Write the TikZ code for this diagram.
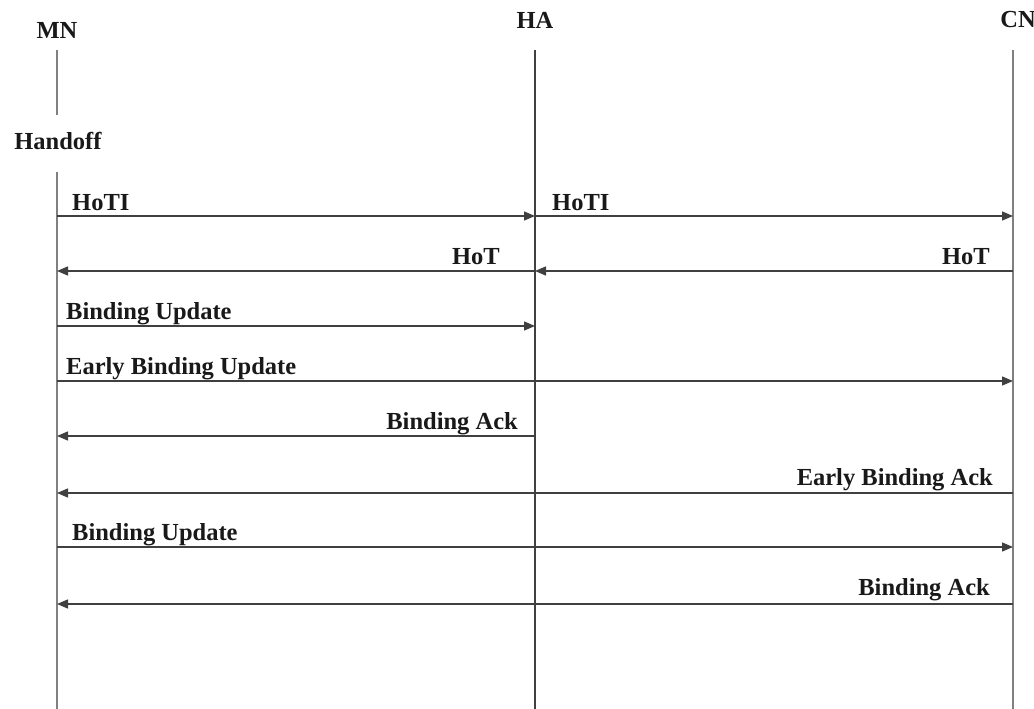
\documentclass[tikz,border=0pt]{standalone}
\usepackage{fontspec}
\setmainfont{Liberation Serif}
\usetikzlibrary{arrows.meta}
\begin{document}
\begin{tikzpicture}[x=1pt,y=-1pt,
  lbl/.style={font=\bfseries\fontsize{24.5}{24.5}\selectfont, inner sep=0pt, text=black!90},
  life/.style={draw=black!50, line width=2pt},
  lifeha/.style={draw=black!75, line width=1.3pt},
  msg/.style={draw=black!75, line width=1.4pt, -{Triangle[length=11pt,width=9pt]}}]
\useasboundingbox (0,0) rectangle (1034,709);
% participants
\node[lbl] (mn) at (57,30) {MN};
\node[lbl] (ha) at (535,20) {HA};
\node[lbl] (cn) at (1018,20) {CN};
\node[lbl] (ho) at (58,141) {Handoff};
% lifelines
\coordinate (mnt) at (57,50);
\coordinate (mnm) at (57,115);
\coordinate (mnr) at (57,172);
\coordinate (mnb) at (57,709);
\coordinate (hat) at (535,50);
\coordinate (hab) at (535,709);
\coordinate (cnt) at (1013,50);
\coordinate (cnb) at (1013,709);
\draw[life] (mnt) -- (mnm);
\draw[life] (mnr) -- (mnb);
\draw[lifeha] (hat) -- (hab);
\draw[life] (cnt) -- (cnb);
% message endpoints
\foreach \n/\y in {1/216,2/271,3/326,4/381,5/436,6/493,7/547,8/604}{
  \coordinate (m\n) at (57,\y);
  \coordinate (h\n) at (535,\y);
  \coordinate (c\n) at (1013,\y);
}
\draw[msg] (m1) -- (h1);
\node[lbl, anchor=base west] (l1) at (72,210) {HoTI};
\draw[msg] (h1) -- (c1);
\node[lbl, anchor=base west] (l2) at (552,210) {HoTI};
\draw[msg] (h2) -- (m2);
\node[lbl, anchor=base east] (l3) at (500,264) {HoT};
\draw[msg] (c2) -- (h2);
\node[lbl, anchor=base east] (l4) at (990,264) {HoT};
\draw[msg] (m3) -- (h3);
\node[lbl, anchor=base west] (l5) at (66,319) {Binding Update};
\draw[msg] (m4) -- (c4);
\node[lbl, anchor=base west] (l6) at (66,374) {Early Binding Update};
\draw[msg] (h5) -- (m5);
\node[lbl, anchor=base east] (l7) at (518,429) {Binding Ack};
\draw[msg] (c6) -- (m6);
\node[lbl, anchor=base east] (l8) at (993,485) {Early Binding Ack};
\draw[msg] (m7) -- (c7);
\node[lbl, anchor=base west] (l9) at (72,540) {Binding Update};
\draw[msg] (c8) -- (m8);
\node[lbl, anchor=base east] (l10) at (990,595) {Binding Ack};
\end{tikzpicture}
\end{document}
